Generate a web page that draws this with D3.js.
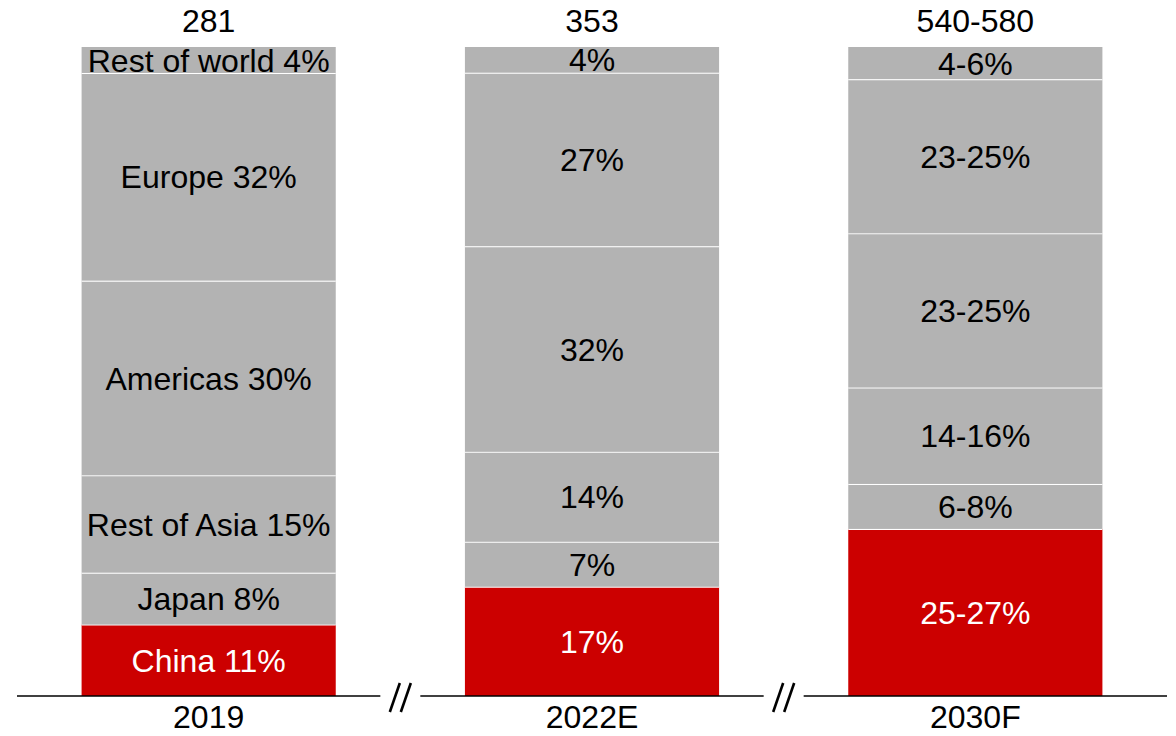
<!DOCTYPE html>
<html>
<head>
<meta charset="utf-8">
<script src="https://cdn.jsdelivr.net/npm/d3@7"></script>
<style>
  body { margin: 0; background: #fff; }
  svg { display: block; font-family: "Liberation Sans", Arial, sans-serif; }
</style>
</head>
<body>
<svg width="1176" height="736"></svg>
<script>
// chart data
var years = ['2019', '2022E', '2030F'];
var totals = ['281', '353', '540-580'];
var regions = ['China', 'Japan', 'Rest of Asia', 'Americas', 'Europe', 'Rest of world'];
// share used for segment height (midpoint of ranges)
var share2019 = [11, 8, 15, 30, 32, 4];
var share2022 = [17, 7, 14, 32, 27, 4];
var share2030 = [26, 7, 15, 24, 24, 5];
var labels2019 = ['China 11%', 'Japan 8%', 'Rest of Asia 15%', 'Americas 30%', 'Europe 32%', 'Rest of world 4%'];
var labels2022 = ['17%', '7%', '14%', '32%', '27%', '4%'];
var labels2030 = ['25-27%', '6-8%', '14-16%', '23-25%', '23-25%', '4-6%'];

var shares = [share2019, share2022, share2030];
var labels = [labels2019, labels2022, labels2030];

// build rows for d3.stack
var rows = years.map(function (yr, i) {
  var row = { year: yr };
  regions.forEach(function (r, j) { row[r] = shares[i][j]; });
  return row;
});

var svg = d3.select('svg');
var fontSize = 32;
var gray = '#b3b3b3';
var red = '#cc0000';

var x = d3.scaleBand()
  .domain(years)
  .range([17, 1167])
  .paddingInner(0.337)
  .paddingOuter(0.1685);

var y = d3.scaleLinear().domain([0, 1]).range([696, 47]);

var series = d3.stack()
  .keys(regions)
  .offset(d3.stackOffsetExpand)(rows);

// bars
series.forEach(function (s, j) {
  var g = svg.append('g');
  g.selectAll('rect')
    .data(s)
    .enter()
    .append('rect')
    .attr('x', function (d) { return x(d.data.year); })
    .attr('y', function (d) { return y(d[1]); })
    .attr('width', x.bandwidth())
    .attr('height', function (d) { return y(d[0]) - y(d[1]); })
    .style('fill', j === 0 ? red : gray);

  // white separator on top of each segment except the last one
  if (j < regions.length - 1) {
    g.selectAll('line')
      .data(s)
      .enter()
      .append('line')
      .attr('x1', function (d) { return x(d.data.year); })
      .attr('x2', function (d) { return x(d.data.year) + x.bandwidth(); })
      .attr('y1', function (d) { return y(d[1]); })
      .attr('y2', function (d) { return y(d[1]); })
      .style('stroke', '#fff')
      .style('stroke-width', 2);
  }

  g.selectAll('text')
    .data(s)
    .enter()
    .append('text')
    .attr('x', function (d) { return x(d.data.year) + x.bandwidth() / 2; })
    .attr('y', function (d) { return (y(d[0]) + y(d[1])) / 2; })
    .attr('dy', '0.36em')
    .attr('text-anchor', 'middle')
    .style('font-size', fontSize + 'px')
    .style('fill', j === 0 ? '#fff' : '#000')
    .text(function (d, i) { return labels[i][j]; });
});

// baseline with break marks between the bars
var base = y(0);
var breaks = years.slice(1).map(function (yr, i) {
  return (x(years[i]) + x.bandwidth() + x(yr)) / 2;
});
var edges = [x.range()[0]];
breaks.forEach(function (b) { edges.push(b - 20, b + 20); });
edges.push(x.range()[1]);
for (var k = 0; k < edges.length; k += 2) {
  svg.append('line')
    .attr('x1', edges[k]).attr('x2', edges[k + 1])
    .attr('y1', base).attr('y2', base)
    .style('stroke', '#000')
    .style('stroke-width', 1.5);
}
breaks.forEach(function (b) {
  [-5.5, 5.5].forEach(function (off) {
    svg.append('line')
      .attr('x1', b + off - 5).attr('y1', base + 16)
      .attr('x2', b + off + 5).attr('y2', base - 13)
      .style('stroke', '#000')
      .style('stroke-width', 2.6);
  });
});

// year labels and totals
svg.append('g').selectAll('text')
  .data(years)
  .enter()
  .append('text')
  .attr('x', function (d) { return x(d) + x.bandwidth() / 2; })
  .attr('y', 728)
  .attr('text-anchor', 'middle')
  .style('font-size', fontSize + 'px')
  .text(function (d) { return d; });

svg.append('g').selectAll('text')
  .data(totals)
  .enter()
  .append('text')
  .attr('x', function (d, i) { return x(years[i]) + x.bandwidth() / 2; })
  .attr('y', 32)
  .attr('text-anchor', 'middle')
  .style('font-size', fontSize + 'px')
  .text(function (d) { return d; });
</script>
</body>
</html>
